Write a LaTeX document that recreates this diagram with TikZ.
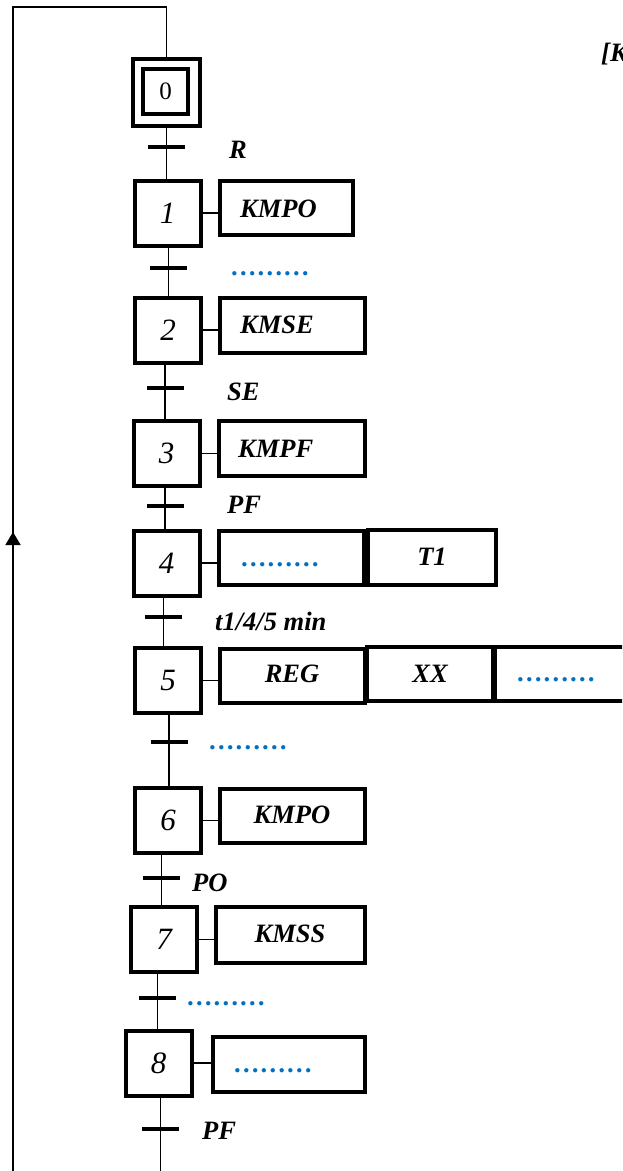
\documentclass[tikz,border=0pt]{standalone}
\usepackage{fontspec}
\setmainfont{Liberation Serif}
\usetikzlibrary{arrows.meta}
\definecolor{dotblue}{RGB}{0,112,192}
\tikzset{
  stepbox/.style={draw, line width=4pt, minimum width=66pt, minimum height=65pt, inner sep=0pt,
    font=\fontsize{31}{31}\selectfont\itshape},
  actbox/.style={draw, line width=4pt, minimum height=54pt, inner sep=0pt},
  trans/.style={fill=black, minimum width=37pt, minimum height=4pt, inner sep=0pt, outer sep=0pt},
  lnk/.style={line width=1.8pt},
  txt/.style={anchor=base west, inner sep=0pt, font=\fontsize{26.5}{30}\selectfont\bfseries\itshape},
  ctxt/.style={txt, anchor=base},
  dots/.style={anchor=base west, inner sep=0pt, text=dotblue, font=\fontsize{26.5}{30}\selectfont\bfseries},
}
\begin{document}
\begin{tikzpicture}[x=1pt, y=-1pt]
\useasboundingbox (0,0) rectangle (622,1171);
\clip (0,0) rectangle (622,1171);

% initial step
\node[draw, line width=4pt, minimum width=67pt, minimum height=67pt, inner sep=0pt] (s0) at (166.5,92.5) {};
\node[draw, line width=4pt, minimum width=45pt, minimum height=45pt, inner sep=0pt,
      font=\fontsize{25}{25}\selectfont] (s0i) at (165.5,91.5) {0};

% steps
\node[stepbox] (s1) at (167.5,213) {1};
\node[stepbox] (s2) at (168,330) {2};
\node[stepbox] (s3) at (166.5,453.5) {3};
\node[stepbox] (s4) at (166.5,563) {4};
\node[stepbox] (s5) at (168,680.5) {5};
\node[stepbox] (s6) at (168,820.5) {6};
\node[stepbox] (s7) at (164,939.5) {7};
\node[stepbox] (s8) at (158.5,1063) {8};

% transitions
\node[trans] (t0) at (166.5,147) {};
\node[trans] (t1) at (168.5,268) {};
\node[trans] (t2) at (165,388) {};
\node[trans] (t3) at (165,506) {};
\node[trans] (t4) at (163.5,617) {};
\node[trans] (t5) at (169,742) {};
\node[trans] (t6) at (161.5,878) {};
\node[trans] (t7) at (157.5,998) {};
\node[trans] (t8) at (160.5,1129) {};

% transition receptivities
\node[txt] (r0) at (229,158) {R};
\node[dots] (r1) at (230,275) {………};
\node[txt] (r2) at (227,400) {SE};
\node[txt] (r3) at (227,513) {PF};
\node[txt] (r4) at (215,630) {t1/4/5 min};
\node[dots] (r5) at (208,749) {………};
\node[txt] (r6) at (192,891) {PO};
\node[dots] (r7) at (186,1005) {………};
\node[txt] (r8) at (202,1139) {PF};

% action boxes
\node[actbox, minimum width=133pt] (a1) at (286.5,208) {};
\node[actbox, minimum width=145pt, minimum height=55pt] (a2) at (292.5,325.5) {};
\node[actbox, minimum width=146pt, minimum height=55pt] (a3) at (292,448.5) {};
\node[actbox, minimum width=145pt] (a4a) at (291.5,558) {};
\node[actbox, minimum width=128pt, minimum height=55pt] (a4b) at (432,557.5) {};
\node[actbox, minimum width=145pt] (a5a) at (292.5,676) {};
\node[actbox, minimum width=126pt] (a5b) at (430,674) {};
\node[actbox, minimum width=150pt] (a5c) at (570,674) {};
\node[actbox, minimum width=145pt] (a6) at (292.5,816) {};
\node[actbox, minimum width=149pt, minimum height=56pt] (a7) at (290.5,935) {};
\node[actbox, minimum width=152pt, minimum height=55pt] (a8) at (289,1064.5) {};

% action texts
\node[txt] (x1) at (240,217) {KMPO};
\node[txt] (x2) at (240,333) {KMSE};
\node[txt] (x3) at (238,457) {KMPF};
\node[dots] (x4a) at (240,566) {………};
\node[ctxt] (x4b) at (432,565) {T1};
\node[ctxt] (x5a) at (292,682) {REG};
\node[ctxt] (x5b) at (430,682) {XX};
\node[dots] (x5c) at (516,681) {………};
\node[ctxt] (x6) at (292,823) {KMPO};
\node[ctxt] (x7) at (290,942) {KMSS};
\node[dots] (x8) at (233,1072) {………};

% top-right partial text
\node[txt] (hdr) at (601,61) {[K};

% step-to-action links
\foreach \s/\a in {s1/a1, s2/a2, s3/a3, s4/a4a, s5/a5a, s6/a6, s7/a7, s8/a8}
  \draw[lnk] (\s.east) -- (\s.east -| \a.west);

% vertical links
\draw[lnk] (t0 |- s0.south) -- (t0 |- s1.north);
\draw[lnk] (t1 |- s1.south) -- (t1 |- s2.north);
\draw[lnk] (t2 |- s2.south) -- (t2 |- s3.north);
\draw[lnk] (t3 |- s3.south) -- (t3 |- s4.north);
\draw[lnk] (t4 |- s4.south) -- (t4 |- s5.north);
\draw[lnk] (t5 |- s5.south) -- (t5 |- s6.north);
\draw[lnk] (t6 |- s6.south) -- (t6 |- s7.north);
\draw[lnk] (t7 |- s7.south) -- (t7 |- s8.north);
\coordinate (bot) at (160.5,1171);
\draw[lnk] (t8 |- s8.south) -- (bot);

% loop back
\coordinate (lb) at (13,1171);
\coordinate (lt) at (13,7);
\coordinate (am) at (13,532);
\draw[lnk] (lb) -- (lt) -| (s0.north);
\draw[lnk, -{Triangle[length=13pt, width=15pt]}] (lb) -- (am);
\end{tikzpicture}
\end{document}
